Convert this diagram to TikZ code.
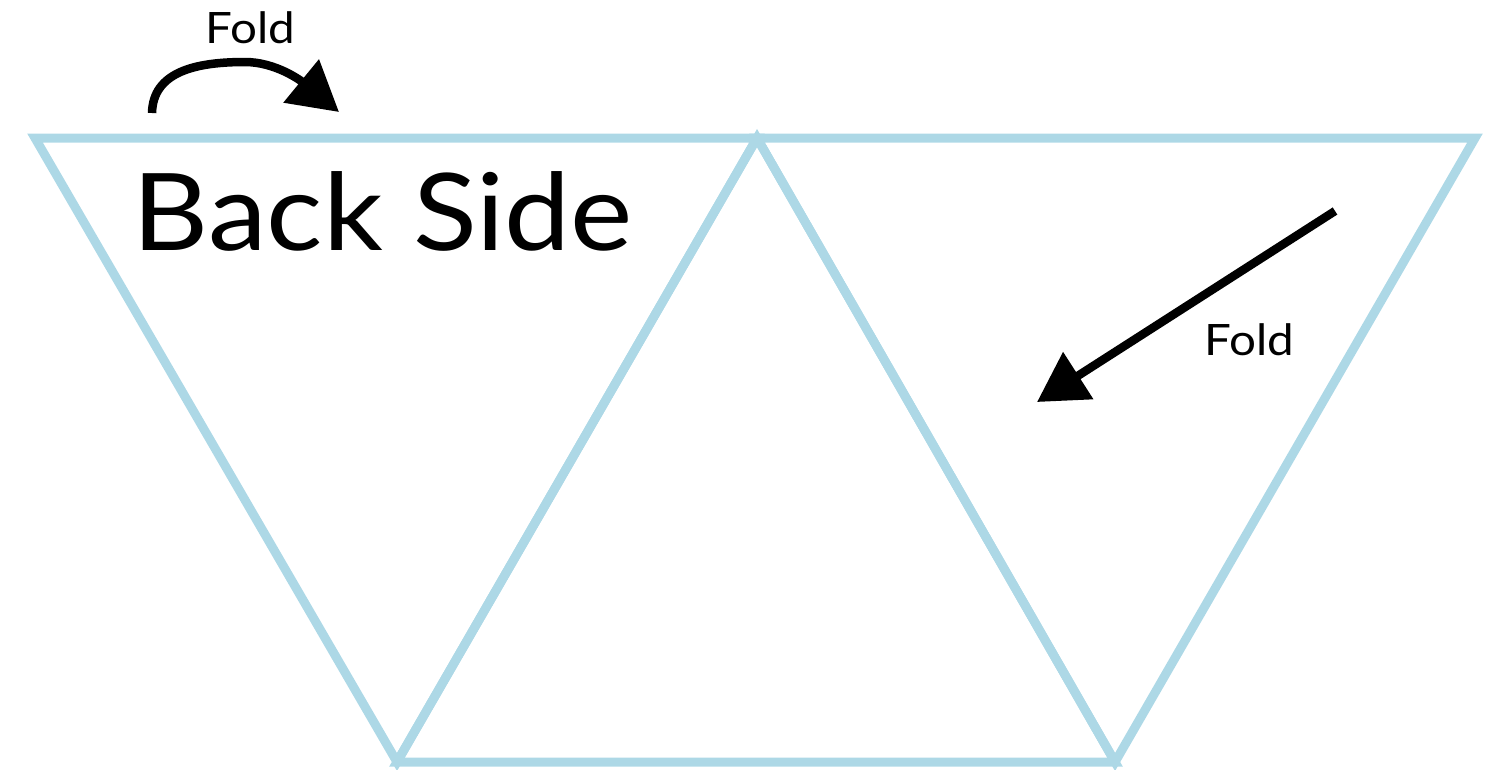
\documentclass[tikz,border=0pt]{standalone}
\usepackage{fontspec}
\setmainfont{Lato}
\usepackage{xcolor}
\usetikzlibrary{arrows.meta}
\definecolor{netblue}{RGB}{173,216,230}
\newcommand{\widetext}[1]{\scalebox{1.1}[1]{#1}}

\begin{document}
\begin{tikzpicture}[x=0.1mm, y=-0.1mm,
    every node/.style={inner sep=0pt, anchor=base west},
    netline/.style={draw=netblue, line width=0.9mm},
    foldarrow/.style={line width=0.85mm, -{Triangle[length=4.9mm, width=5.4mm]}}]
  \useasboundingbox (0,0) rectangle (1495,769);
  % corners of the net
  \coordinate (tl) at (35,138);
  \coordinate (tm) at (757,138);
  \coordinate (tr) at (1475,138);
  \coordinate (bl) at (397,762);
  \coordinate (br) at (1115,762);
  \foreach \a/\b/\c in {tl/tm/bl, tm/bl/br, tm/tr/br}{
    \path[netline] (\a) -- (\b) -- (\c) -- cycle;}
  \node[font=\fontsize{30.5}{36}\selectfont] (back) at (132,250) {\widetext{Back Side}};
  \node[font=\fontsize{12.3}{15}\selectfont] (foldtop) at (205,43) {\widetext{Fold}};
  \node[font=\fontsize{12.3}{15}\selectfont] (foldright) at (1204,355) {\widetext{Fold}};
  % fold arrows
  \coordinate (curlstart) at (152,113);
  \coordinate (curlend) at (339,112);
  \coordinate (slantstart) at (1335,211);
  \coordinate (slantend) at (1037,402);
  \draw[foldarrow] (curlstart) .. controls (153,72) and (195,62) .. (245,62)
    .. controls (275,62) and (300,80) .. (curlend);
  \draw[foldarrow] (slantstart) -- (slantend);
\end{tikzpicture}
\end{document}
